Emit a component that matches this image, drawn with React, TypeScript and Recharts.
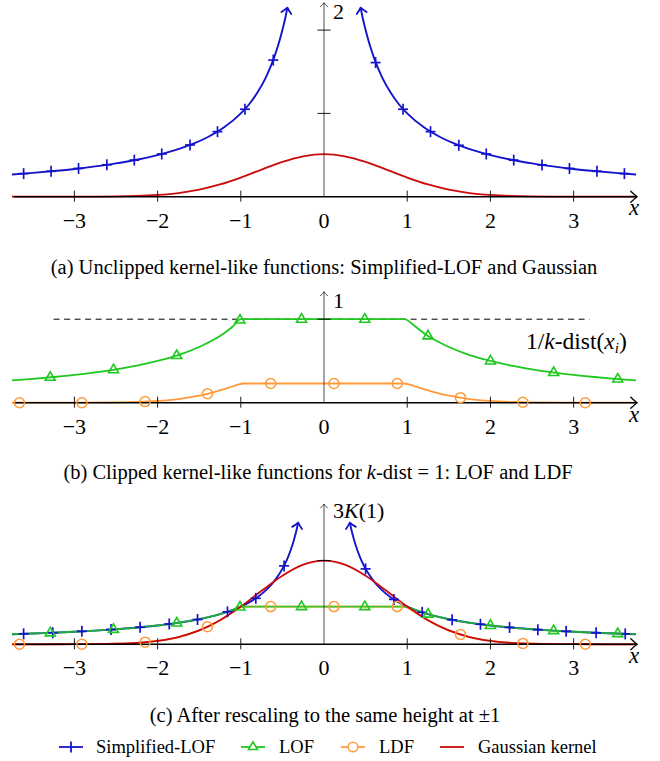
import React from "react";
import { ComposedChart, Line, Scatter, XAxis, YAxis } from "recharts";

const FONT = '"Liberation Serif", "Times New Roman", serif';
const BLUE = "#1414cc";
const GREEN = "#1ec81e";
const ORANGE = "#ff9a3a";
const RED = "#cc0a0a";

const X_DOMAIN: [number, number] = [-3.894, 4.038];

// x axis ticks
const xTickValues = [-3, -2, -1, 1, 2, 3];
const xTickLabelValues = [-3, -2, -1, 0, 1, 2, 3];
const xTickLabels = ["\u22123", "\u22122", "\u22121", "0", "1", "2", "3"];

// ---------- Panel (a) ----------
const slofXA_L = [-3.75, -3.5, -3.25, -3, -2.75, -2.5, -2.25, -2, -1.8, -1.6, -1.4, -1.2, -1, -0.9, -0.8, -0.7, -0.6, -0.55, -0.5, -0.46, -0.44];
const slofYA_L = [0.267, 0.286, 0.308, 0.333, 0.364, 0.4, 0.444, 0.5, 0.556, 0.625, 0.714, 0.833, 1.0, 1.11, 1.25, 1.43, 1.67, 1.82, 2.0, 2.17, 2.27];
const slofXA_R = [0.44, 0.46, 0.5, 0.55, 0.6, 0.7, 0.8, 0.9, 1, 1.2, 1.4, 1.6, 1.8, 2, 2.25, 2.5, 2.75, 3, 3.25, 3.5, 3.75];
const slofYA_R = [2.27, 2.17, 2.0, 1.82, 1.67, 1.43, 1.25, 1.11, 1.0, 0.833, 0.714, 0.625, 0.556, 0.5, 0.444, 0.4, 0.364, 0.333, 0.308, 0.286, 0.267];
const slofMarkXA = [-3.61, -3.28, -2.95, -2.61, -2.28, -1.95, -1.61, -1.28, -0.95, -0.61, 0.62, 0.95, 1.28, 1.62, 1.95, 2.28, 2.62, 2.95, 3.28, 3.61];
const slofMarkYA = [0.277, 0.305, 0.339, 0.383, 0.439, 0.513, 0.621, 0.781, 1.05, 1.64, 1.61, 1.05, 0.781, 0.617, 0.513, 0.439, 0.382, 0.339, 0.305, 0.277];

const gaussX = [-3.75, -3.5, -3.25, -3, -2.75, -2.5, -2.25, -2, -1.75, -1.5, -1.25, -1, -0.75, -0.5, -0.25, 0, 0.25, 0.5, 0.75, 1, 1.25, 1.5, 1.75, 2, 2.25, 2.5, 2.75, 3, 3.25, 3.5, 3.75];
const gaussYA = [0, 0, 0, 0.0004, 0.0012, 0.0035, 0.009, 0.021, 0.044, 0.085, 0.147, 0.23, 0.326, 0.418, 0.485, 0.51, 0.485, 0.418, 0.326, 0.23, 0.147, 0.085, 0.044, 0.021, 0.009, 0.0035, 0.0012, 0.0004, 0, 0, 0];

// ---------- Panel (b) ----------
const lofX = [-3.75, -3.5, -3.25, -3, -2.75, -2.5, -2.25, -2, -1.75, -1.5, -1.35, -1.2, -1.1, -1, -0.5, 0, 0.5, 0.97, 1.05, 1.15, 1.25, 1.35, 1.5, 1.75, 2, 2.25, 2.5, 2.75, 3, 3.25, 3.5, 3.75];
const lofY = [0.267, 0.286, 0.308, 0.333, 0.364, 0.4, 0.444, 0.5, 0.571, 0.667, 0.741, 0.833, 0.909, 1, 1, 1, 1, 1, 0.952, 0.87, 0.8, 0.741, 0.667, 0.571, 0.5, 0.444, 0.4, 0.364, 0.333, 0.308, 0.286, 0.267];
const lofMarkX = [-3.29, -2.53, -1.77, -1.01, -0.27, 0.49, 1.25, 2.0, 2.76, 3.53];
const lofMarkY = [0.304, 0.395, 0.565, 0.99, 1, 1, 0.8, 0.5, 0.362, 0.283];

const ldfX = [-3.75, -3, -2.5, -2.25, -2, -1.75, -1.5, -1.4, -1.3, -1.2, -1.1, -0.97, -0.5, 0, 0.5, 0.95, 1.05, 1.1, 1.2, 1.3, 1.4, 1.5, 1.75, 2, 2.25, 2.5, 3, 3.75];
const ldfYB = [0, 0.0004, 0.0035, 0.009, 0.021, 0.044, 0.085, 0.107, 0.132, 0.162, 0.194, 0.23, 0.23, 0.23, 0.23, 0.23, 0.21, 0.194, 0.162, 0.132, 0.107, 0.085, 0.044, 0.021, 0.009, 0.0035, 0.0004, 0];
const ldfMarkX = [-3.66, -2.91, -2.15, -1.4, -0.64, 0.12, 0.88, 1.64, 2.39, 3.14];
const ldfMarkYB = [0, 0, 0.013, 0.107, 0.23, 0.23, 0.23, 0.06, 0.0054, 0];

const kdistLineX = [-3.25, 3.19];
const kdistLineY = [1, 1];

// ---------- Panel (c) ----------
const slofXC_L = [-3.75, -3.5, -3.25, -3, -2.75, -2.5, -2.25, -2, -1.8, -1.6, -1.4, -1.2, -1, -0.9, -0.8, -0.7, -0.6, -0.5, -0.45, -0.4, -0.36, -0.33, -0.31];
const slofYC_L = [0.267, 0.286, 0.308, 0.333, 0.364, 0.4, 0.444, 0.5, 0.556, 0.625, 0.714, 0.833, 1.0, 1.11, 1.25, 1.43, 1.67, 2.0, 2.22, 2.5, 2.78, 3.03, 3.23];
const slofXC_R = [0.31, 0.33, 0.36, 0.4, 0.45, 0.5, 0.6, 0.7, 0.8, 0.9, 1, 1.2, 1.4, 1.6, 1.8, 2, 2.25, 2.5, 2.75, 3, 3.25, 3.5, 3.75];
const slofYC_R = [3.23, 3.03, 2.78, 2.5, 2.22, 2.0, 1.67, 1.43, 1.25, 1.11, 1.0, 0.833, 0.714, 0.625, 0.556, 0.5, 0.444, 0.4, 0.364, 0.333, 0.308, 0.286, 0.267];
const slofMarkXC = [-3.61, -3.26, -2.91, -2.56, -2.21, -1.86, -1.52, -1.16, -0.82, -0.48, 0.5, 0.84, 1.18, 1.54, 1.88, 2.23, 2.57, 2.91, 3.27, 3.62];
const slofMarkYC = [0.277, 0.307, 0.344, 0.391, 0.452, 0.538, 0.658, 0.862, 1.22, 2.08, 2.0, 1.19, 0.847, 0.649, 0.532, 0.448, 0.389, 0.344, 0.306, 0.276];
const gaussYC = [0, 0, 0.001, 0.002, 0.005, 0.015, 0.039, 0.091, 0.193, 0.369, 0.639, 1.0, 1.418, 1.818, 2.111, 2.22, 2.111, 1.818, 1.418, 1.0, 0.639, 0.369, 0.193, 0.091, 0.039, 0.015, 0.005, 0.002, 0.001, 0, 0];
const ldfYC = [0, 0.002, 0.015, 0.039, 0.091, 0.193, 0.369, 0.465, 0.574, 0.704, 0.843, 1, 1, 1, 1, 1, 0.92, 0.843, 0.704, 0.574, 0.465, 0.369, 0.193, 0.091, 0.039, 0.015, 0.002, 0];
const ldfMarkYC = [0, 0, 0.057, 0.465, 1, 1, 1, 0.26, 0.023, 0];

const pts = (xs: number[], ys: number[]) => xs.map((x, i) => ({ x, y: ys[i] }));

// ---------- shapes ----------
const arrowShape = (angle: number, color: string, sw: number, len: number, half: number) => (props: any) => {
  const { cx, cy } = props;
  if (cx == null || cy == null) return <g />;
  return (
    <path
      d={`M ${-len} ${-half} Q ${-len * 0.35} ${-half * 0.25} 0 0 Q ${-len * 0.35} ${half * 0.25} ${-len} ${half}`}
      transform={`translate(${cx},${cy}) rotate(${angle})`}
      fill="none"
      stroke={color}
      strokeWidth={sw}
      strokeLinecap="round"
      strokeLinejoin="round"
    />
  );
};

const plusShape = (props: any) => {
  const { cx, cy } = props;
  return (
    <g>
      <line x1={cx - 5} y1={cy} x2={cx + 5} y2={cy} stroke={BLUE} strokeWidth={1.7} />
      <line x1={cx} y1={cy - 5.5} x2={cx} y2={cy + 5.5} stroke={BLUE} strokeWidth={1.7} />
    </g>
  );
};
const triShape = (props: any) => {
  const { cx, cy } = props;
  return (
    <path
      d={`M ${cx} ${cy - 5.5} L ${cx + 5} ${cy + 3} L ${cx - 5} ${cy + 3} Z`}
      fill="none"
      stroke={GREEN}
      strokeWidth={1.6}
      strokeLinejoin="miter"
    />
  );
};
const circShape = (props: any) => {
  const { cx, cy } = props;
  return <circle cx={cx} cy={cy} r={5} fill="none" stroke={ORANGE} strokeWidth={1.5} />;
};
const xTickShape = (props: any) => {
  const { cx, cy } = props;
  return <line x1={cx} y1={cy - 6} x2={cx} y2={cy + 5} stroke="#000" strokeWidth={0.9} />;
};
const yTickShape = (props: any) => {
  const { cx, cy } = props;
  return <line x1={cx - 6.5} y1={cy} x2={cx + 6.5} y2={cy} stroke="#000" strokeWidth={0.9} />;
};
const xLabelShape = (props: any) => {
  const { cx, cy, payload } = props;
  return (
    <text x={cx} y={cy + 31} textAnchor="middle" fontFamily="Liberation Serif, serif" fontSize={22} fill="#000">
      {payload.label}
    </text>
  );
};

const xTickData = xTickValues.map((x) => ({ x, y: 0 }));
const xLabelData = xTickLabelValues.map((x, i) => ({ x, y: 0, label: xTickLabels[i] }));
const xAxisLine = [{ x: -3.73, y: 0 }, { x: 3.75, y: 0 }];
const xArrowData = [{ x: 3.765, y: 0 }];

function axisParts(key: string, yTop: number, yTicks: number[]) {
  return [
    <Line key={key + "ya"} data={[{ x: 0, y: 0 }, { x: 0, y: yTop }]} dataKey="y" type="linear" stroke="#222" strokeWidth={0.8} dot={false} activeDot={false} isAnimationActive={false} />,
    <Line key={key + "xa"} data={xAxisLine} dataKey="y" type="linear" stroke="#000" strokeWidth={1.4} dot={false} activeDot={false} isAnimationActive={false} />,
    <Scatter key={key + "xar"} data={xArrowData} shape={arrowShape(0, "#000", 1.3, 6.5, 5.5)} isAnimationActive={false} />,
    <Scatter key={key + "yar"} data={[{ x: 0, y: yTop }]} shape={arrowShape(-90, "#222", 0.8, 4, 3.5)} isAnimationActive={false} />,
    <Scatter key={key + "xt"} data={xTickData} shape={xTickShape} isAnimationActive={false} />,
    <Scatter key={key + "xl"} data={xLabelData} shape={xLabelShape} isAnimationActive={false} />,
    <Scatter key={key + "yt"} data={yTicks.map((y) => ({ x: 0, y }))} shape={yTickShape} isAnimationActive={false} />,
  ];
}

function curve(key: string, data: any[], color: string, sw: number, opacity = 1) {
  return (
    <Line key={key} data={data} dataKey="y" type="monotone" stroke={color} strokeWidth={sw} strokeOpacity={opacity} dot={false} activeDot={false} isAnimationActive={false} />
  );
}

function PanelA() {
  return (
    <ComposedChart width={660} height={235} margin={{ top: 0, right: 0, bottom: 0, left: 0 }}>
      <XAxis type="number" dataKey="x" domain={X_DOMAIN} hide allowDataOverflow />
      <YAxis type="number" dataKey="y" domain={[-0.4598, 2.3613]} hide allowDataOverflow />
      {curve("ga", pts(gaussX, gaussYA), RED, 1.8)}
      {curve("sl", pts(slofXA_L, slofYA_L), BLUE, 1.9)}
      {curve("sr", pts(slofXA_R, slofYA_R), BLUE, 1.9)}
      {axisParts("a", 2.329, [1, 2])}
      <Scatter data={pts(slofMarkXA, slofMarkYA)} shape={plusShape} isAnimationActive={false} />
      <Scatter data={[{ x: slofXA_L[slofXA_L.length - 1], y: slofYA_L[slofYA_L.length - 1] }]} shape={arrowShape(-79, BLUE, 1.8, 5.5, 5)} isAnimationActive={false} />
      <Scatter data={[{ x: slofXA_R[0], y: slofYA_R[0] }]} shape={arrowShape(-101, BLUE, 1.8, 5.5, 5)} isAnimationActive={false} />
    </ComposedChart>
  );
}

function PanelB() {
  return (
    <ComposedChart width={660} height={160} margin={{ top: 0, right: 0, bottom: 0, left: 0 }}>
      <XAxis type="number" dataKey="x" domain={X_DOMAIN} hide allowDataOverflow />
      <YAxis type="number" dataKey="y" domain={[-0.5066, 1.4096]} hide allowDataOverflow />
      <Line data={pts(kdistLineX, kdistLineY)} dataKey="y" type="linear" stroke="#000" strokeWidth={1} strokeDasharray="6 4.5" dot={false} activeDot={false} isAnimationActive={false} />
      {curve("ldf", pts(ldfX, ldfYB), ORANGE, 1.8)}
      {curve("lof", pts(lofX, lofY), GREEN, 1.8)}
      {axisParts("b", 1.329, [1])}
      <Scatter data={pts(ldfMarkX, ldfMarkYB)} shape={circShape} isAnimationActive={false} />
      <Scatter data={pts(lofMarkX, lofMarkY)} shape={triShape} isAnimationActive={false} />
    </ComposedChart>
  );
}

function PanelC() {
  return (
    <ComposedChart width={660} height={195} margin={{ top: 0, right: 0, bottom: 0, left: 0 }}>
      <XAxis type="number" dataKey="x" domain={X_DOMAIN} hide allowDataOverflow />
      <YAxis type="number" dataKey="y" domain={[-1.2122, 3.96]} hide allowDataOverflow />
      {curve("sl", pts(slofXC_L, slofYC_L), BLUE, 1.9)}
      {curve("sr", pts(slofXC_R, slofYC_R), BLUE, 1.9)}
      {curve("ldf", pts(ldfX, ldfYC), ORANGE, 1.8)}
      {curve("lof", pts(lofX, lofY), GREEN, 1.8, 0.85)}
      {curve("ga", pts(gaussX, gaussYC), RED, 1.8)}
      {axisParts("c", 3.721, [2.22])}
      <Scatter data={pts(slofMarkXC, slofMarkYC)} shape={plusShape} isAnimationActive={false} />
      <Scatter data={pts(lofMarkX, lofMarkY)} shape={triShape} isAnimationActive={false} />
      <Scatter data={pts(ldfMarkX, ldfMarkYC)} shape={circShape} isAnimationActive={false} />
      <Scatter data={[{ x: slofXC_L[slofXC_L.length - 1], y: slofYC_L[slofYC_L.length - 1] }]} shape={arrowShape(-78, BLUE, 1.8, 5.5, 5)} isAnimationActive={false} />
      <Scatter data={[{ x: slofXC_R[0], y: slofYC_R[0] }]} shape={arrowShape(-102, BLUE, 1.8, 5.5, 5)} isAnimationActive={false} />
    </ComposedChart>
  );
}

const abs = (left: number, top: number, extra: React.CSSProperties = {}): React.CSSProperties => ({
  position: "absolute",
  left,
  top,
  fontFamily: FONT,
  whiteSpace: "nowrap",
  ...extra,
});

function LegendIcon({ kind, color }: { kind: string; color: string }) {
  return (
    <svg width={26} height={14} style={{ display: "block" }}>
      <line x1={1} y1={7} x2={25} y2={7} stroke={color} strokeWidth={1.8} />
      {kind === "plus" && <line x1={13} y1={1.5} x2={13} y2={12.5} stroke={color} strokeWidth={1.8} />}
      {kind === "tri" && <path d="M 13 1.8 L 17.5 9.5 L 8.5 9.5 Z" fill="#fff" stroke={color} strokeWidth={1.6} />}
      {kind === "circ" && <circle cx={13} cy={7} r={4.8} fill="#fff" stroke={color} strokeWidth={1.5} />}
    </svg>
  );
}

const legendItems = [
  { label: "Simplified-LOF", kind: "plus", color: BLUE, iconX: 58, textX: 96 },
  { label: "LOF", kind: "tri", color: GREEN, iconX: 240, textX: 279 },
  { label: "LDF", kind: "circ", color: ORANGE, iconX: 340, textX: 379 },
  { label: "Gaussian kernel", kind: "line", color: RED, iconX: 439, textX: 478 },
];

export default function App() {
  const capStyle: React.CSSProperties = { fontSize: 20.5, lineHeight: "24px", textAlign: "center", width: 648 };
  return (
    <div style={{ position: "absolute", left: 0, top: 0, width: 660, height: 761, background: "#fff", overflow: "hidden" }}>
      <div style={{ position: "absolute", left: 0, top: 0 }}>
        <PanelA />
      </div>
      <div style={{ position: "absolute", left: 0, top: 285 }}>
        <PanelB />
      </div>
      <div style={{ position: "absolute", left: 0, top: 495 }}>
        <PanelC />
      </div>

      {/* axis labels */}
      <div style={abs(333, 0, { fontSize: 22, lineHeight: "24px" })}>2</div>
      <div style={abs(333, 289, { fontSize: 22, lineHeight: "24px" })}>1</div>
      <div style={abs(333, 499, { fontSize: 22, lineHeight: "24px" })}>
        3<i>K</i>(1)
      </div>
      <div style={abs(629, 196, { fontSize: 23, lineHeight: "24px", fontStyle: "italic" })}>x</div>
      <div style={abs(629, 403, { fontSize: 23, lineHeight: "24px", fontStyle: "italic" })}>x</div>
      <div style={abs(629, 644, { fontSize: 23, lineHeight: "24px", fontStyle: "italic" })}>x</div>
      <div style={abs(526, 328, { fontSize: 23.5, lineHeight: "26px" })}>
        1/<i>k</i>-dist(<i>x</i>
        <sub style={{ fontSize: 15, fontStyle: "italic", verticalAlign: "-4px" }}>i</sub>)
      </div>

      {/* captions */}
      <div style={abs(0, 255, capStyle)}>(a) Unclipped kernel-like functions: Simplified-LOF and Gaussian</div>
      <div style={abs(-6, 460, capStyle)}>
        (b) Clipped kernel-like functions for <i>k</i>-dist = 1: LOF and LDF
      </div>
      <div style={abs(1, 703, capStyle)}>(c) After rescaling to the same height at ±1</div>

      {/* legend */}
      {legendItems.map((it) => (
        <React.Fragment key={it.label}>
          <div style={abs(it.iconX, 740)}>
            <LegendIcon kind={it.kind} color={it.color} />
          </div>
          <div style={abs(it.textX, 736, { fontSize: 18.5, lineHeight: "22px" })}>{it.label}</div>
        </React.Fragment>
      ))}
    </div>
  );
}
